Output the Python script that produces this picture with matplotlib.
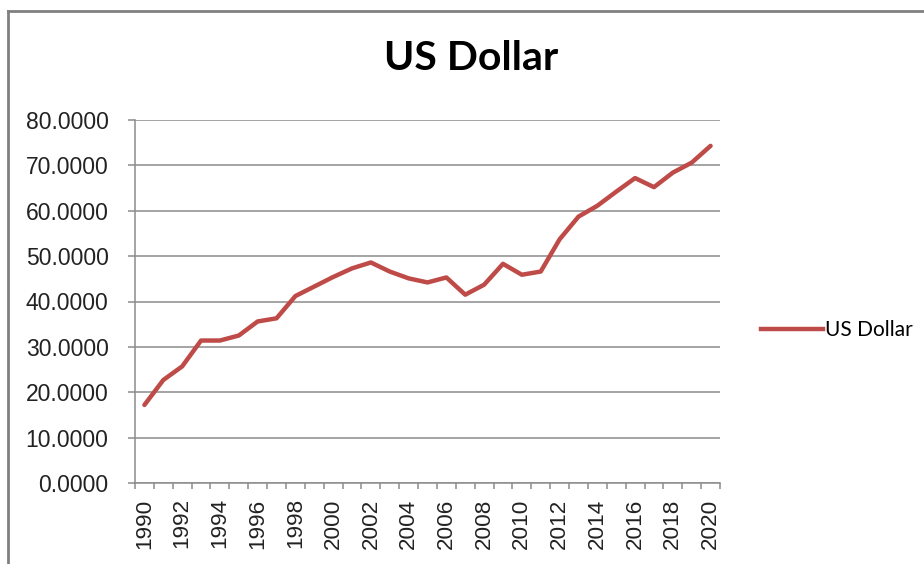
import matplotlib
matplotlib.use("Agg")
import matplotlib.pyplot as plt
from matplotlib.lines import Line2D
from matplotlib.ticker import FixedLocator, FuncFormatter

years = list(range(1990, 2021))
usd_rate = [17.2, 22.7, 25.7, 31.4, 31.4, 32.5, 35.6, 36.3, 41.2, 43.3,
            45.4, 47.3, 48.6, 46.6, 45.1, 44.2, 45.3, 41.5, 43.7, 48.3,
            45.9, 46.6, 53.7, 58.7, 61.1, 64.2, 67.2, 65.2, 68.4, 70.6,
            74.3]
y_ticks = [0, 10, 20, 30, 40, 50, 60, 70, 80]
series_name = "US Dollar"

line_color = "#BE4B48"
grid_color = "#8C8C8C"

fig = plt.figure(figsize=(9.24, 5.64), dpi=100)
ax = fig.add_axes([135 / 924, 1 - 483 / 564, 585 / 924, 363 / 564])

x = list(range(len(years)))
ax.plot(x, usd_rate, color=line_color, lw=3.2, solid_capstyle="round",
        solid_joinstyle="round", label=series_name, zorder=3)

ax.set_xlim(-0.5, len(years) - 0.5)
ax.set_ylim(y_ticks[0], y_ticks[-1])

# category axis: labels every second year, ticks on category boundaries
ax.xaxis.set_major_locator(FixedLocator(x[::2]))
ax.set_xticklabels([str(y) for y in years[::2]], rotation=90,
                   family="Liberation Sans", fontsize=16.2, color="#222222")
ax.xaxis.set_minor_locator(FixedLocator([i - 0.5 for i in range(len(years) + 1)]))
ax.tick_params(axis="x", which="major", length=0, pad=11)
ax.tick_params(axis="x", which="minor", length=4.5, width=1.1, color=grid_color)

ax.yaxis.set_major_locator(FixedLocator(y_ticks))
ax.yaxis.set_major_formatter(FuncFormatter(lambda v, p: f"{v:.4f}"))
ax.tick_params(axis="y", length=5, width=1.1, color=grid_color, pad=14,
               labelsize=16.5, labelcolor="#222222")
for lab in ax.get_yticklabels():
    lab.set_family("Liberation Sans")

ax.grid(axis="y", color=grid_color, lw=1.1, zorder=1)
for side in ("top", "right"):
    ax.spines[side].set_visible(False)
for side in ("left", "bottom"):
    ax.spines[side].set_color(grid_color)
    ax.spines[side].set_linewidth(1.1)

fig.text(471 / 924, 1 - 58 / 564, series_name, ha="center", va="center",
         family="Lato", weight="bold", fontsize=29.5, color="black")

leg = fig.legend(handles=[Line2D([], [], color=line_color, lw=3.2)],
                 labels=[series_name], loc="center left",
                 bbox_to_anchor=(742 / 924, 1 - 330 / 564), frameon=False,
                 handlelength=3.0, handletextpad=0.1,
                 prop={"family": "Lato", "size": 15})

# outer chart border
border = dict(color="#808080", lw=2, transform=fig.transFigure)
fig.add_artist(Line2D([8 / 924, 8 / 924], [0, 1 - 11 / 564], **border))
fig.add_artist(Line2D([8 / 924, 1], [1 - 11 / 564, 1 - 11 / 564], **border))

fig.savefig("out.png", dpi=100)
